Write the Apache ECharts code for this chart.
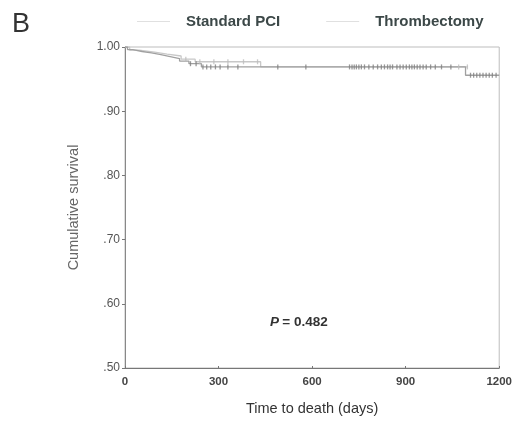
<!DOCTYPE html>
<html>
<head>
<meta charset="utf-8">
<script src="https://cdn.jsdelivr.net/npm/echarts@6/dist/echarts.min.js"></script>
<style>html,body{margin:0;padding:0;background:#fff;}#c{width:515px;height:422px;}</style>
</head>
<body>
<div id="c"></div>
<script>
// Kaplan-Meier steps [day, cumulative survival]
const standardPCI = [[0,1.0],[8,0.996],[25,0.993],[55,0.991],[85,0.988],[115,0.985],[145,0.982],[175,0.978],[205,0.974],[245,0.969],[1092,0.956],[1200,0.956]];
const thrombectomy = [[0,1.0],[15,0.995],[45,0.992],[95,0.989],[135,0.986],[180,0.981],[225,0.977],[435,0.969],[1100,0.969]];
const censorPCI = [[210,0.974],[228,0.974],[250,0.969],[262,0.969],[275,0.969],[290,0.969],[305,0.969],[330,0.969],[362,0.969],[490,0.969],[580,0.969],
  [720,0.969],[728,0.969],[735,0.969],[742,0.969],[750,0.969],[758,0.969],[768,0.969],[782,0.969],[796,0.969],[810,0.969],[822,0.969],[832,0.969],[842,0.969],[850,0.969],[858,0.969],[872,0.969],[882,0.969],[892,0.969],[902,0.969],[912,0.969],[920,0.969],[928,0.969],[937,0.969],[946,0.969],[956,0.969],[966,0.969],[980,0.969],[995,0.969],[1015,0.969],[1045,0.969],
  [1108,0.956],[1118,0.956],[1128,0.956],[1138,0.956],[1148,0.956],[1158,0.956],[1168,0.956],[1178,0.956],[1190,0.956]];
const censorThromb = [[195,0.981],[240,0.977],[285,0.977],[330,0.977],[380,0.977],[425,0.977],[1070,0.969],[1098,0.969]];
const xTicks = [0,300,600,900,1200];
const yTickLabels = {'1':'1.00','0.9':'.90','0.8':'.80','0.7':'.70','0.6':'.60','0.5':'.50'};
const seriesNames = ['Standard PCI','Thrombectomy'];

const chart = echarts.init(document.getElementById('c'), null, {renderer:'canvas'});
chart.setOption({
  animation:false,
  backgroundColor:'#fff',
  title:{text:'B',left:7,top:6,textStyle:{fontSize:27,fontWeight:'normal',color:'#333',fontFamily:'Liberation Sans'}},
  legend:{data:seriesNames,left:132,top:9,orient:'horizontal',itemWidth:33,itemHeight:1,icon:'rect',itemGap:46,
     itemStyle:{color:'#e0e0e0'},
     textStyle:{fontSize:15,fontWeight:'bold',color:'#3c4848',fontFamily:'Liberation Sans',padding:[0,0,0,11]}},
  grid:{left:125,right:15,top:47,bottom:54,show:true,borderColor:'#bdbdbd',borderWidth:1},
  xAxis:{type:'value',min:0,max:1200,interval:300,
    axisLine:{show:true,lineStyle:{color:'#777',width:1}},
    axisTick:{show:true,length:2,inside:true,lineStyle:{color:'#777'}},
    splitLine:{show:false},
    axisLabel:{margin:8,fontSize:11.5,fontWeight:'bold',color:'#444',fontFamily:'Liberation Sans',
      formatter:v=>xTicks.includes(v)?String(v):''},
    name:'Time to death (days)',nameLocation:'middle',nameGap:33,
    nameTextStyle:{fontSize:14.5,color:'#333',fontFamily:'Liberation Sans'}},
  yAxis:{type:'value',min:0.5,max:1.0,interval:0.1,
    axisLine:{show:true,lineStyle:{color:'#888',width:1}},
    axisTick:{show:true,length:3,lineStyle:{color:'#777'}},
    splitLine:{show:false},
    axisLabel:{margin:5,fontSize:12,color:'#555',fontFamily:'Liberation Sans',
      formatter:v=>yTickLabels[String(Math.round(v*10)/10)]||''},
    name:'Cumulative survival',nameLocation:'middle',nameGap:44,nameRotate:90,
    nameTextStyle:{fontSize:14.5,color:'#666',fontFamily:'Liberation Sans'}},
  graphic:[{type:'text',left:270,top:315,style:{
    text:'{p|P} {v|= 0.482}',rich:{p:{fontStyle:'italic',fontWeight:'bold',fontSize:13.5,fill:'#333',fontFamily:'Liberation Sans'},
      v:{fontWeight:'bold',fontSize:13.5,fill:'#333',fontFamily:'Liberation Sans'}}}}],
  series:[
    {name:seriesNames[0],type:'line',step:'end',data:standardPCI,symbol:'none',lineStyle:{color:'#a0a0a0',width:1.3},z:3},
    {name:seriesNames[1],type:'line',step:'end',data:thrombectomy,symbol:'none',lineStyle:{color:'#c8c8c8',width:1.3},z:2},
    {name:'cPCI',type:'scatter',data:censorPCI,symbol:'rect',symbolSize:[1.3,5],itemStyle:{color:'#808080'},z:4},
    {name:'cThromb',type:'scatter',data:censorThromb,symbol:'rect',symbolSize:[1.3,5],itemStyle:{color:'#bdbdbd'},z:4}
  ]
});
</script>
</body>
</html>
